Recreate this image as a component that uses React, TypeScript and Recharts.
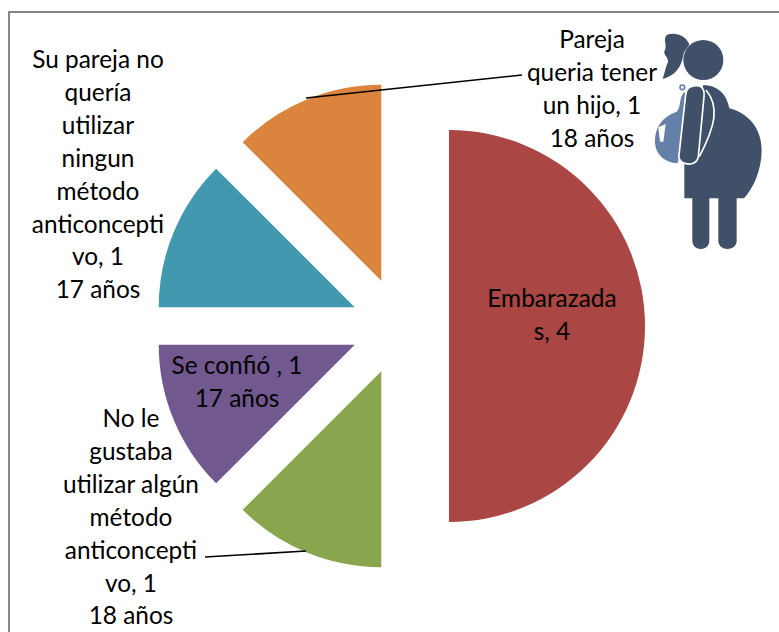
import { PieChart, Pie, Sector } from 'recharts';

const categories = [
  'Embarazadas',
  'No le gustaba utilizar algún método anticonceptivo',
  'Se confió',
  'Su pareja no quería utilizar ningun método anticonceptivo',
  'Pareja queria tener un hijo',
];
const values = [4, 1, 1, 1, 1];
const colors = ['#AA4643', '#89A54E', '#71588F', '#4198AF', '#DB843D'];
const labelLines = [
  ['Embarazada', 's, 4'],
  ['No le', 'gustaba', 'utilizar algún', 'método', 'anticoncepti', 'vo, 1', '18 años'],
  ['Se confió , 1', '17 años'],
  ['Su pareja no', 'quería', 'utilizar', 'ningun', 'método', 'anticoncepti', 'vo, 1', '17 años'],
  ['Pareja', 'queria tener', 'un hijo, 1', '18 años'],
];

const data = categories.map((name, i) => ({ name, value: values[i], fill: colors[i] }));

const WIDTH = 779;
const HEIGHT = 632;
const CX = 400;
const CY = 326;
const RADIUS = 196;
const EXPLODE = 49;
const RAD = Math.PI / 180;
const LINE_H = 32.9;
const FONT = 'Lato, "Open Sans", sans-serif';

// label block placement relative to the pie centre: [centre x, first line y]
const labelPos = [
  [152, -29],
  [-269, 91],
  [-163, 38],
  [-302, -268],
  [192, -288],
];
// leader lines, relative to the pie centre
const leaders: Record<number, number[]> = {
  1: [-195, 231, -94, 225],
  4: [-94, -228, 122, -251],
};

function ExplodedSlice(props: any) {
  const { cx, cy, midAngle, outerRadius, startAngle, endAngle, fill } = props;
  const dx = EXPLODE * Math.cos(midAngle * RAD);
  const dy = -EXPLODE * Math.sin(midAngle * RAD);
  return (
    <Sector
      cx={cx + dx}
      cy={cy + dy}
      innerRadius={0}
      outerRadius={outerRadius}
      startAngle={startAngle}
      endAngle={endAngle}
      fill={fill}
    />
  );
}

function SliceLabel({ index }: any) {
  const [x, y] = labelPos[index];
  const leader = leaders[index];
  return (
    <g>
      {leader && (
        <line
          x1={CX + leader[0]}
          y1={CY + leader[1]}
          x2={CX + leader[2]}
          y2={CY + leader[3]}
          stroke="#000"
          strokeWidth={1.6}
        />
      )}
      <text
        x={CX + x}
        y={CY + y}
        textAnchor="middle"
        dominantBaseline="central"
        fontFamily={FONT}
        fontSize={24.4}
        fill="#000"
      >
        {labelLines[index].map((line, i) => (
          <tspan key={i} x={CX + x} dy={i === 0 ? 0 : LINE_H}>
            {line}
          </tspan>
        ))}
      </text>
    </g>
  );
}

function PregnantIcon() {
  const dark = '#3F5068';
  return (
    <svg
      width={WIDTH}
      height={HEIGHT}
      style={{ position: 'absolute', left: 0, top: 0, pointerEvents: 'none' }}
    >
      <g transform="translate(620 0) scale(0.3333)">
        <circle cx={250} cy={180} r={60} fill={dark} />
        <path
          d="M208 132 C195 105 165 95 140 105 C128 118 142 135 135 150 C125 165 155 175 140 195 L128 237 C165 228 185 200 190 165 C192 150 205 145 208 132 Z"
          fill={dark}
        />
        <path
          d="M250 255 C290 255 320 280 328 325 C385 340 425 385 425 450 C425 510 400 565 372 595 L350 595 L350 722 C350 755 295 755 295 722 L295 595 L268 595 L268 722 C268 755 217 755 217 722 L217 595 L193 595 L193 480 Z"
          fill={dark}
        />
        <path
          d="M195 275 C175 290 185 320 170 335 C125 350 103 385 105 430 C108 465 135 488 172 490 L205 400 Z"
          fill="#6580A8"
        />
        <circle cx={187} cy={262} r={7} fill="none" stroke="#6580A8" strokeWidth={5} />
        <path d="M115 382 L137 372 L130 425 L120 425 Z" fill="#fff" />
        <path
          d="M222 258 C240 255 255 262 252 290 L235 470 C230 505 170 495 177 465 L197 285 C199 265 208 260 222 258 Z"
          fill={dark}
          stroke="#fff"
          strokeWidth={5}
        />
        <path d="M258 270 C300 320 285 380 238 470" fill="none" stroke="#fff" strokeWidth={5} />
      </g>
    </svg>
  );
}

export default function App() {
  return (
    <div
      style={{
        position: 'absolute',
        left: 0,
        top: 0,
        width: WIDTH,
        height: HEIGHT,
        overflow: 'hidden',
        background: '#fff',
      }}
    >
      <div
        style={{
          position: 'absolute',
          left: 8,
          top: 11,
          right: -4,
          bottom: -4,
          border: '2px solid #868686',
        }}
      />
      <div style={{ position: 'absolute', left: 0, top: 0 }}>
        <PieChart width={WIDTH} height={HEIGHT} margin={{ top: 0, right: 0, bottom: 0, left: 0 }}>
          <Pie
            data={data}
            dataKey="value"
            nameKey="name"
            cx={CX}
            cy={CY}
            outerRadius={RADIUS}
            startAngle={90}
            endAngle={-270}
            stroke="none"
            shape={ExplodedSlice}
            label={SliceLabel}
            labelLine={false}
            isAnimationActive={false}
          />
        </PieChart>
      </div>
      <PregnantIcon />
    </div>
  );
}
